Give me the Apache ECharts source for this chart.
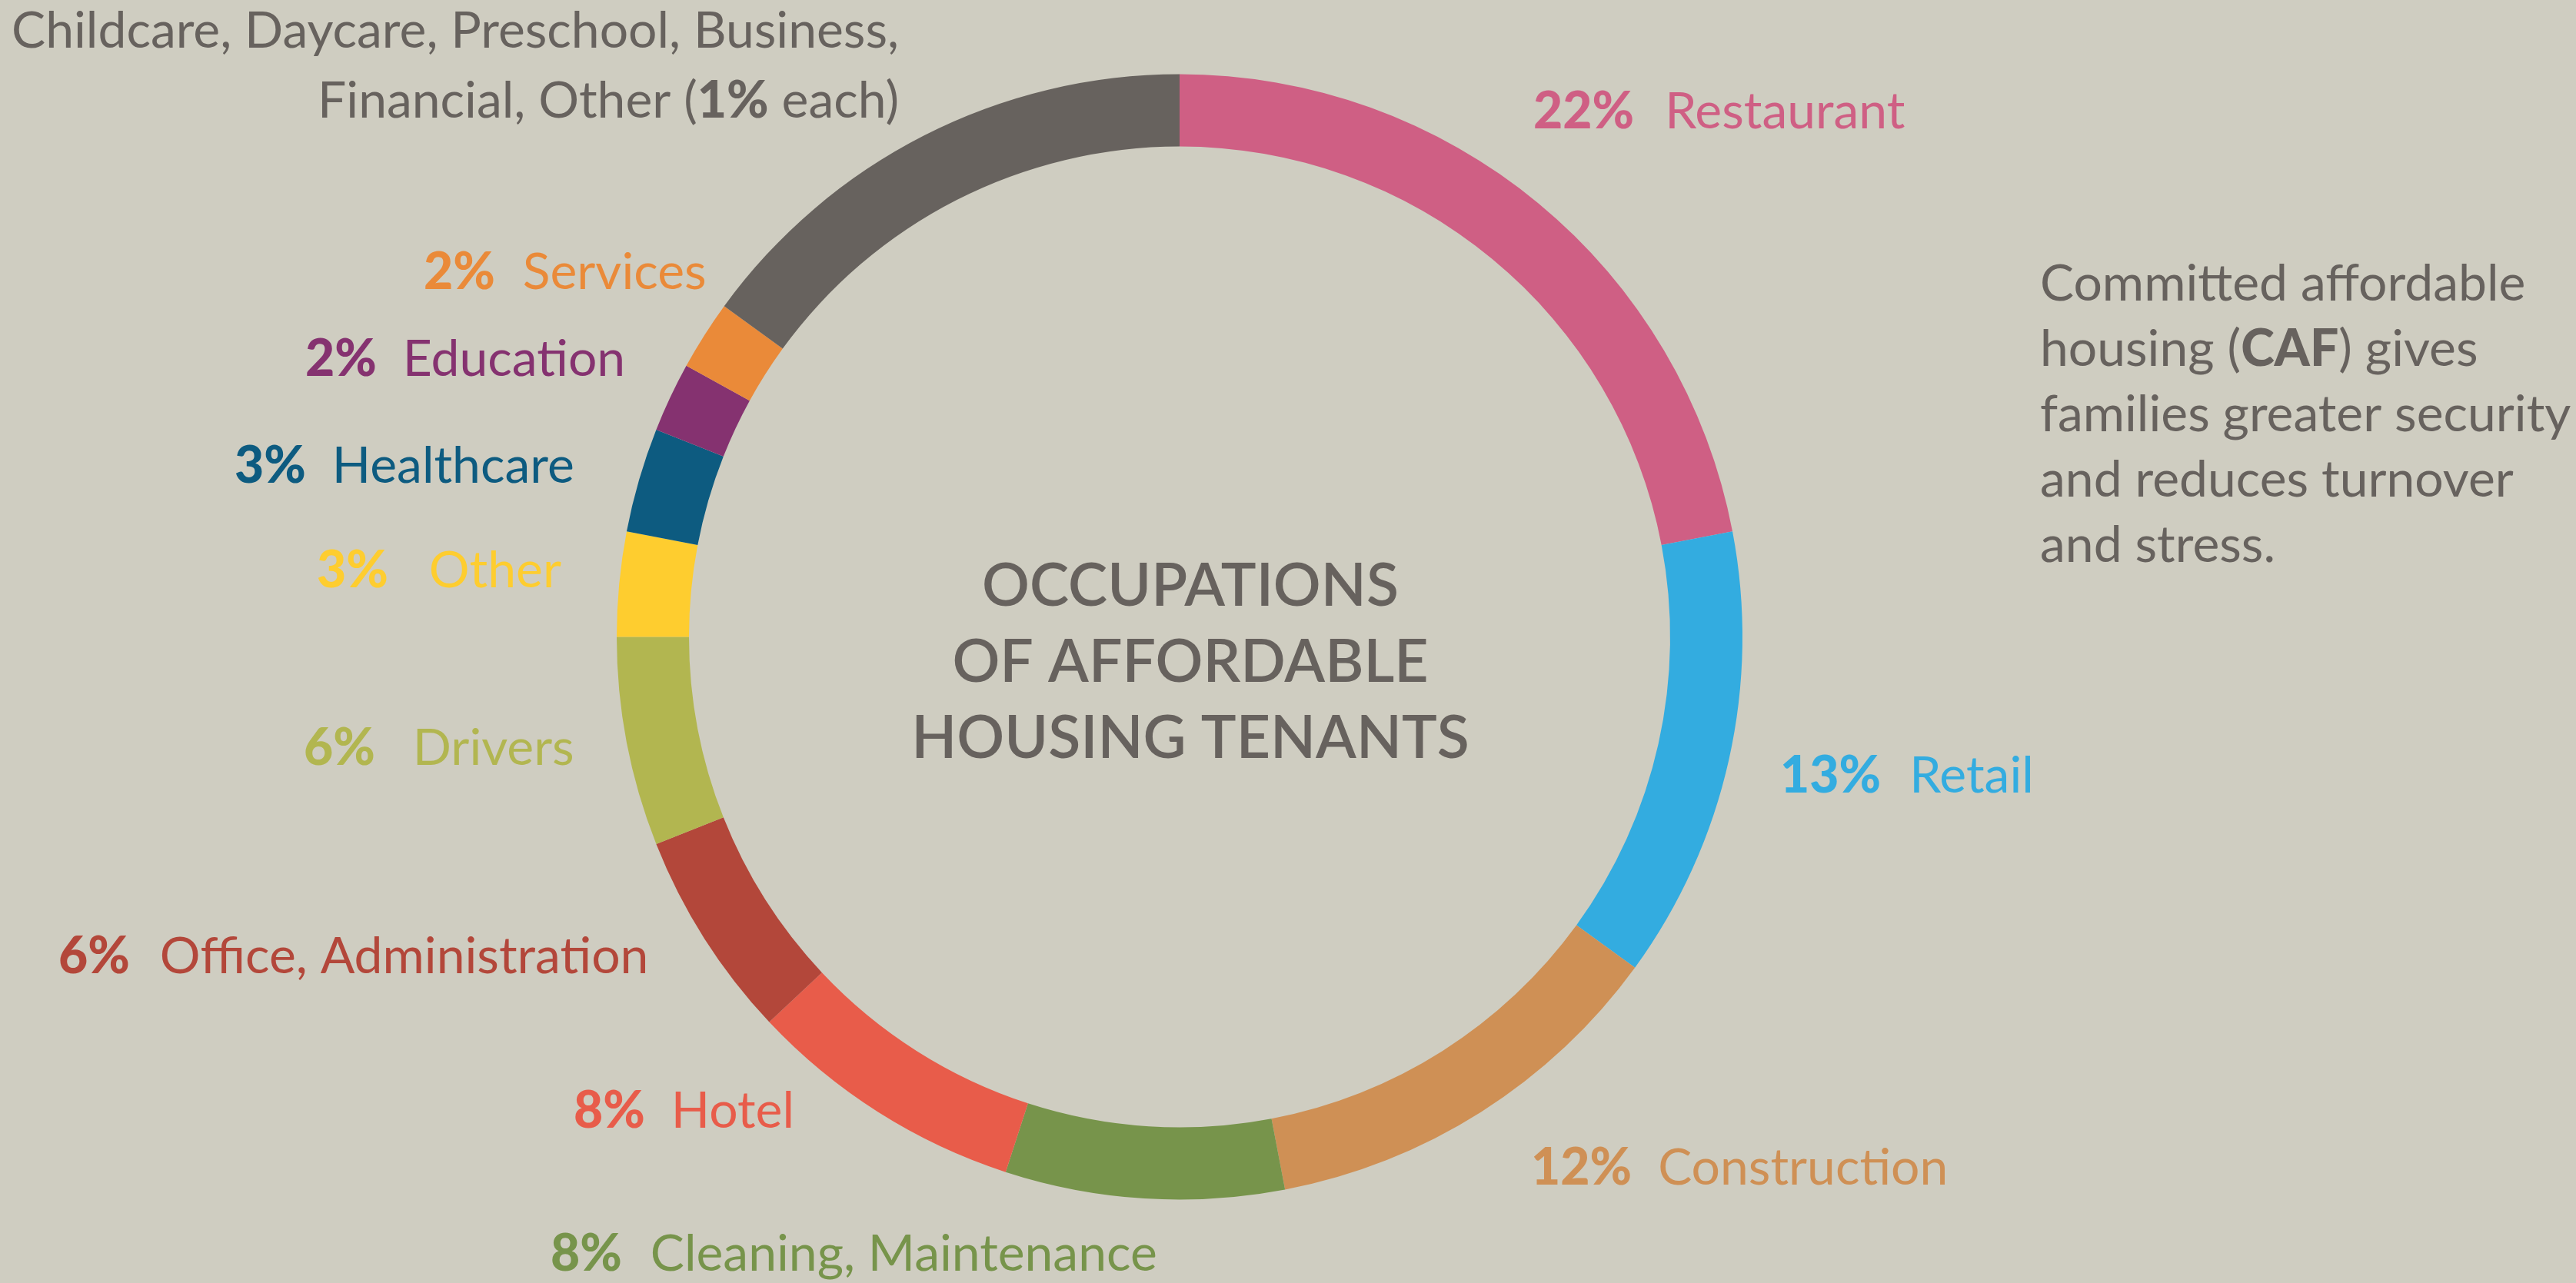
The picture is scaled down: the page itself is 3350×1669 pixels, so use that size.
<!DOCTYPE html>
<html>
<head>
<meta charset="utf-8">
<title>Occupations of Affordable Housing Tenants</title>
<script src="https://cdn.jsdelivr.net/npm/echarts@6/dist/echarts.min.js"></script>
<style>
  html, body { margin: 0; padding: 0; background: #cfcdc1; }
  #chart { width: 3350px; height: 1669px; }
</style>
</head>
<body>
<div id="chart"></div>
<script>
// Occupation groups, clockwise from 12 o'clock
const occupations = [
  'Restaurant', 'Retail', 'Construction', 'Cleaning, Maintenance', 'Hotel',
  'Office, Administration', 'Drivers', 'Other', 'Healthcare', 'Education',
  'Services', 'Childcare, Daycare, Preschool, Business, Financial, Other'
];
// Share of tenants, percent
const shares = [22, 13, 12, 8, 8, 6, 6, 3, 3, 2, 2, 15];
const sliceColors = [
  '#cf5f84', '#33ace0', '#cf9055', '#77944b', '#e85c4a',
  '#b3473a', '#b2b650', '#fecd2f', '#0d5b80', '#853270',
  '#ea8a39', '#67625e'
];
// Small occupations folded into the last (grey) slice
const groupedOccupations = ['Childcare', 'Daycare', 'Preschool', 'Business', 'Financial', 'Other'];
const groupedEachShare = 1;

const centerTitle = ['OCCUPATIONS', 'OF AFFORDABLE', 'HOUSING TENANTS'];
const sideNote = [
  'Committed affordable',
  'housing ({b|CAF}) gives',
  'families greater security',
  'and reduces turnover',
  'and stress.'
];

// Label anchor per slice: [x, y, gap between percent and name, align]
const labelSpots = [
  [1994, 146, 40, 'left'],
  [2315, 1010, 37, 'left'],
  [1991, 1520, 34, 'left'],
  [716, 1632, 37, 'left'],
  [746, 1446, 34, 'left'],
  [76, 1245, 39, 'left'],
  [395, 974, 49, 'left'],
  [412, 743, 53, 'left'],
  [305, 607, 34, 'left'],
  [397, 468, 34, 'left'],
  [551, 355, 36, 'left'],
  [1169, 86, 0, 'right']
];

const FONT = 'Lato, "Noto Sans", sans-serif';
const SIZE = 66;
const INK = '#67625e';
const last = occupations.length - 1;

const pieData = occupations.map((name, i) => {
  const color = sliceColors[i];
  const gap = labelSpots[i][2];
  return {
    name,
    value: shares[i],
    itemStyle: { color },
    label: {
      color,
      rich: {
        p: { fontFamily: FONT, fontSize: SIZE, fontWeight: 900, color },
        n: { fontFamily: FONT, fontSize: SIZE, fontWeight: 400, color, padding: [0, 0, 0, gap] },
        g: { fontFamily: FONT, fontSize: SIZE, fontWeight: 400, color, align: 'right', lineHeight: 91 },
        gb: { fontFamily: FONT, fontSize: SIZE, fontWeight: 900, color, align: 'right', lineHeight: 91 }
      }
    }
  };
});

function labelText(params) {
  const i = params.dataIndex;
  if (i === last) {
    const first = groupedOccupations.slice(0, 4).join(', ') + ',';
    const second = groupedOccupations.slice(4).join(', ');
    return '{g|' + first + '}\n{g|' + second + ' (}{gb|' + groupedEachShare + '%}{g| each)}';
  }
  return '{p|' + params.value + '%}{n|' + params.name + '}';
}

const chart = echarts.init(document.getElementById('chart'), null, { renderer: 'canvas' });

chart.setOption({
  backgroundColor: '#cfcdc1',
  animation: false,
  series: [{
    type: 'pie',
    center: [1534, 828.5],
    radius: [638, 732],
    startAngle: 90,
    clockwise: true,
    avoidLabelOverlap: false,
    silent: true,
    label: {
      show: true,
      position: 'outside',
      fontFamily: FONT,
      fontSize: SIZE,
      formatter: labelText
    },
    labelLine: { show: false },
    labelLayout: (p) => {
      const s = labelSpots[p.dataIndex];
      return { x: s[0], y: s[1], align: s[3], verticalAlign: 'middle' };
    },
    data: pieData
  }],
  graphic: [
    {
      type: 'text',
      style: {
        x: 1548,
        y: 862,
        text: centerTitle.join('\n'),
        align: 'center',
        verticalAlign: 'middle',
        fill: INK,
        fontFamily: FONT,
        fontSize: 77,
        fontWeight: 600,
        lineHeight: 99
      }
    },
    {
      type: 'text',
      style: {
        x: 2653,
        y: 540,
        text: sideNote.join('\n'),
        align: 'left',
        verticalAlign: 'middle',
        fill: INK,
        fontFamily: FONT,
        fontSize: SIZE,
        lineHeight: 85,
        rich: {
          b: { fontFamily: FONT, fontSize: SIZE, fontWeight: 900, fill: INK, color: INK, lineHeight: 85 }
        }
      }
    }
  ]
});
</script>
</body>
</html>
